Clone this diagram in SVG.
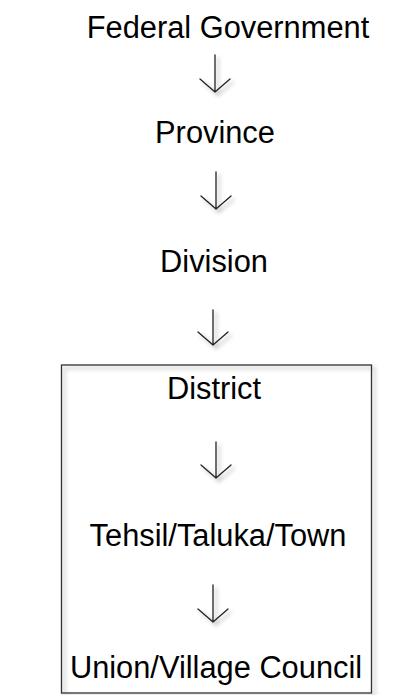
<svg xmlns="http://www.w3.org/2000/svg" width="417" height="695" viewBox="0 0 417 695">
<defs>
<style>
.t{font-family:"Liberation Sans",Arial,sans-serif;font-size:30.8px;fill:#000;text-anchor:middle}
.a{fill:none;stroke:#222;stroke-width:1.3;stroke-linecap:round;stroke-linejoin:round;filter:url(#sh)}
.box{fill:none;stroke:#333;stroke-width:1.3;filter:url(#sh)}
</style>
<filter id="sh" x="-30%" y="-30%" width="160%" height="160%">
<feGaussianBlur in="SourceAlpha" stdDeviation="2"/>
<feOffset dx="3" dy="3" result="b"/>
<feComponentTransfer><feFuncA type="linear" slope="0.35"/></feComponentTransfer>
<feMerge><feMergeNode/><feMergeNode in="SourceGraphic"/></feMerge>
</filter>
</defs>
<rect width="417" height="695" fill="#fff"/>
<g id="district-box"><rect class="box" x="61.5" y="365" width="310" height="328"/></g>
<g id="n-federal"><text class="t" x="228" y="38">Federal Government</text></g>
<g id="n-province"><text class="t" x="215" y="143">Province</text></g>
<g id="n-division"><text class="t" x="214" y="272">Division</text></g>
<g id="n-district"><text class="t" x="214" y="399">District</text></g>
<g id="n-tehsil"><text class="t" x="218" y="546">Tehsil/Taluka/Town</text></g>
<g id="n-union"><text class="t" x="216" y="678">Union/Village Council</text></g>
<g id="connectors">
<path class="a" d="M215 55V92M200 79L215 92L230 79"/>
<path class="a" d="M216 172V209M201 196L216 209L231 196"/>
<path class="a" d="M213 310V345M198 332L213 345L228 332"/>
<path class="a" d="M216 442V478M201 465L216 478L231 465"/>
<path class="a" d="M213 585V622M198 609L213 622L228 609"/>
</g>
</svg>
